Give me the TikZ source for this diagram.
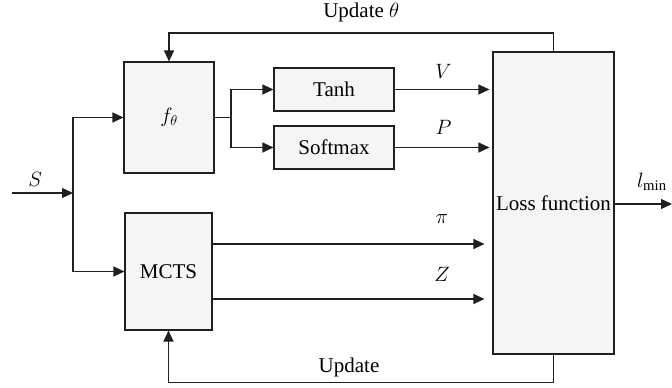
\documentclass[tikz,border=0pt]{standalone}
\usepackage{fontspec}
\setmainfont{LiberationSerif}[Extension=.ttf, UprightFont=*-Regular, ItalicFont=*-Italic, BoldFont=*-Bold]
\usetikzlibrary{arrows.meta}
\definecolor{linegray}{RGB}{35,31,32}
\definecolor{boxfill}{RGB}{245,245,245}
\begin{document}
\begin{tikzpicture}[x=1pt, y=-1pt,
    font=\fontsize{21}{25}\selectfont,
    block/.style={draw=linegray, line width=1.1pt, fill=boxfill, rectangle, inner sep=1pt},
    arr/.style={draw=linegray, line width=1.1pt, -{Triangle[length=11pt,width=10pt]}},
    wire/.style={draw=linegray, line width=1.1pt}]
    \useasboundingbox (0,0) rectangle (672,388);

    % Network and search blocks
    \node[block, minimum width=90pt, minimum height=111pt] (fnet) at (169,117.5) {$f_\theta$};
    \node[block, minimum width=120pt, minimum height=43pt] (tanh) at (334,89.5) {Tanh};
    \node[block, minimum width=120pt, minimum height=43pt] (softmax) at (334,147.5) {Softmax};
    \node[block, minimum width=87pt, minimum height=117pt] (mcts) at (168.5,271.5) {MCTS};
    \node[block, minimum width=121pt, minimum height=302pt] (loss) at (553.5,203) {Loss function};

    % Helper points
    \coordinate (in) at (12,193);
    \coordinate (split) at (73,193);
    \coordinate (fsplit) at (231,117.5);
    \coordinate (toprow) at (0,33);
    \coordinate (botrow) at (0,382.5);
    \coordinate (pistart) at (212,244);
    \coordinate (zstart) at (212,299);
    \coordinate (out) at (672,204);

    % Input state
    \draw[arr] (in) -- node[above=3pt, pos=0.38] {$S$} (split);
    \draw[arr] (split) |- (fnet.west);
    \draw[arr] (split) |- (mcts.west);

    % Network heads
    \draw[wire] (fnet.east) -- (fsplit);
    \draw[arr] (fsplit) |- (tanh.west);
    \draw[arr] (fsplit) |- (softmax.west);
    \draw[arr, shorten >=3pt] (tanh.east) -- node[above=7pt] {$V$} (tanh.east -| loss.west);
    \draw[arr, shorten >=3pt] (softmax.east) -- node[above=9pt] {$P$} (softmax.east -| loss.west);

    % Search targets
    \draw[arr, shorten >=8pt] (pistart) -- node[above=17pt, pos=0.82] {$\pi$} (pistart -| loss.west);
    \draw[arr, shorten >=8pt] (zstart) -- node[above=14pt, pos=0.82] {$Z$} (zstart -| loss.west);

    % Output
    \draw[arr] (loss.east |- out) -- node[above=10pt, pos=0.65] {$l_{\min}$} (out);

    % Feedback loops
    \draw[arr] (loss.north) -- (loss.north |- toprow) -- node[above=7pt] {Update $\theta$} (toprow -| fnet.north) -- (fnet.north);
    \draw[arr] (loss.south) -- (loss.south |- botrow) -- node[above=2pt, xshift=-12pt] {Update} (botrow -| mcts.south) -- (mcts.south);
\end{tikzpicture}
\end{document}
